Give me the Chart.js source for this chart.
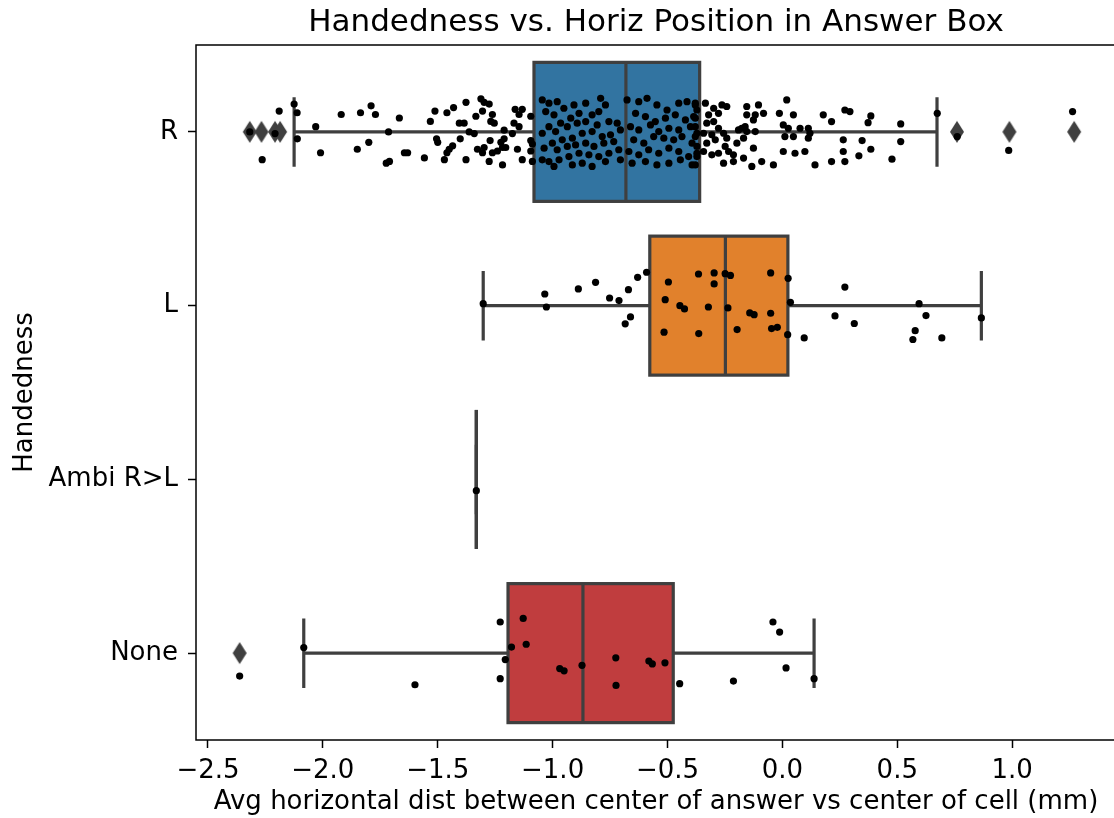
<!DOCTYPE html>
<html lang="en">
<head>
<meta charset="UTF-8">
<title>Handedness vs. Horiz Position in Answer Box</title>
<script src="https://cdn.jsdelivr.net/npm/chart.js"></script>
<style>
  html, body { margin: 0; padding: 0; background: #fff; overflow: hidden; }
  .wrap { width: 1120px; height: 818px; }
</style>
</head>
<body>
<div class="wrap"><canvas id="chart"></canvas></div>
<script>
// categories (top to bottom)
const categories = ['R', 'L', 'Ambi R>L', 'None'];
const xTicks = [-2.5, -2.0, -1.5, -1.0, -0.5, 0.0, 0.5, 1.0];

// box stats
const q1          = [-1.081, -0.577, -1.332, -1.194];
const median      = [-0.681, -0.248, -1.332, -0.868];
const q3          = [-0.360,  0.024, -1.332, -0.475];
const whiskerLow  = [-2.125, -1.302, -1.332, -2.083];
const whiskerHigh = [ 0.673,  0.866, -1.332,  0.138];
const fliers      = [[-2.318, -2.267, -2.208, -2.186, 0.760, 0.988, 1.270], [], [], [-2.362]];

// strip points: [value, jitter]
const stripR = [
  [-2.318,0.0],[-2.208,0.01],[-2.19,-0.12],[-2.264,0.16],[-2.125,-0.16],[-2.112,-0.11],[-2.111,0.04],
  [-2.031,-0.03],[-2.01,0.12],[-1.92,-0.10],[-1.836,-0.11],[-1.79,-0.15],[-1.771,-0.10],[-1.80,0.06],
  [-1.85,0.10],[-1.724,0.18],
  [-1.714,0.0],[-1.71,0.17],[-1.667,-0.08],[-1.631,0.12],[-1.645,0.12],[-1.558,0.15],[-1.532,-0.06],
  [-1.512,-0.12],[-1.505,0.04],[-1.50,0.06],[-1.46,-0.11],[-1.431,-0.14],[-1.377,-0.17],[-1.471,0.16],
  [-1.45,0.10],[-1.435,0.08],[-1.46,0.12],[-1.406,-0.05],[-1.385,-0.05],[-1.402,0.04],[-1.377,0.16],
  [-1.363,0.0],[-1.334,-0.09],[-1.312,-0.19],[-1.298,-0.17],[-1.276,-0.16],[-1.305,-0.12],[-1.262,-0.10],
  [-1.269,-0.06],[-1.254,-0.05],[-1.341,0.01],[-1.327,0.10],[-1.305,0.12],[-1.298,0.09],[-1.272,0.05],
  [-1.262,0.12],[-1.24,0.11],[-1.225,0.06],[-1.218,0.09],[-1.204,0.09],[-1.276,0.17],[-1.218,0.19],
  [-1.211,-0.01],[-1.175,0.01],[-1.163,-0.13],[-1.146,-0.10],[-1.132,-0.13],[-1.168,-0.05],[-1.146,-0.03],
  [-1.153,0.10],[-1.132,0.16],[-1.095,0.05],[-1.088,0.07],[-1.095,0.11],[-1.088,0.17],[-1.095,-0.09],
  [-1.211,0.04],
  [-1.045,-0.184],[-1.016,-0.165],[-0.980,-0.174],[-1.030,-0.117],[-0.994,-0.098],[-0.951,-0.136],
  [-0.907,-0.155],[-0.856,-0.165],[-0.791,-0.193],[-0.770,-0.155],[-0.799,-0.117],[-0.828,-0.098],
  [-0.885,-0.107],[-0.921,-0.079],[-0.965,-0.050],[-1.016,-0.030],[-1.045,0.008],[-0.987,-0.002],
  [-0.936,-0.030],[-0.893,-0.050],[-0.856,-0.059],[-0.806,-0.040],[-0.755,-0.059],[-0.719,-0.050],
  [-0.705,-0.011],[-0.748,0.017],[-0.784,0.027],[-0.828,-0.002],[-0.871,0.008],[-0.914,0.036],
  [-0.958,0.046],[-1.001,0.065],[-1.037,0.094],[-0.980,0.103],[-0.936,0.084],[-0.900,0.075],
  [-0.856,0.065],[-0.820,0.084],[-0.777,0.065],[-0.734,0.056],[-0.712,0.103],[-0.755,0.123],
  [-0.799,0.142],[-0.842,0.132],[-0.885,0.123],[-0.929,0.142],[-0.972,0.161],[-1.016,0.171],
  [-1.045,0.161],[-0.994,0.199],[-0.914,0.190],[-0.871,0.180],[-0.828,0.199],[-0.770,0.171],
  [-0.705,0.161],[-0.676,-0.184],[-0.625,-0.174],[-0.589,-0.193],[-0.546,-0.155],[-0.502,-0.126],
  [-0.451,-0.165],[-0.415,-0.174],[-0.379,-0.155],[-0.639,-0.107],[-0.596,-0.088],[-0.553,-0.059],
  [-0.509,-0.079],[-0.466,-0.098],[-0.422,-0.069],[-0.386,-0.088],[-0.661,-0.030],[-0.625,-0.011],
  [-0.574,-0.040],[-0.538,-0.002],[-0.494,-0.021],[-0.451,-0.011],[-0.400,-0.030],[-0.372,0.008],
  [-0.647,0.046],[-0.603,0.065],[-0.560,0.027],[-0.516,0.036],[-0.473,0.046],[-0.437,0.027],
  [-0.393,0.065],[-0.668,0.113],[-0.625,0.132],[-0.582,0.103],[-0.538,0.123],[-0.494,0.094],
  [-0.451,0.113],[-0.408,0.142],[-0.372,0.123],[-0.654,0.180],[-0.596,0.171],[-0.546,0.190],
  [-0.494,0.180],[-0.444,0.161],[-0.393,0.190],
  [-0.379,-0.165],[-0.372,-0.126],[-0.379,-0.079],[-0.379,-0.030],[-0.379,0.027],[-0.372,0.084],
  [-0.372,0.142],[-0.379,0.190],[-0.335,-0.165],[-0.299,-0.136],[-0.263,-0.155],[-0.242,-0.146],
  [-0.278,-0.107],[-0.321,-0.098],[-0.329,-0.050],[-0.299,-0.059],[-0.278,-0.021],[-0.343,0.008],
  [-0.307,0.017],[-0.292,0.046],[-0.329,0.065],[-0.256,0.008],[-0.242,0.036],[-0.343,0.113],
  [-0.307,0.132],[-0.278,0.123],[-0.249,0.084],[-0.234,0.113],[-0.213,0.132],[-0.256,0.180],
  [-0.213,0.171],[-0.169,0.151],[-0.133,0.199],[-0.090,0.171],[-0.198,0.065],[-0.155,-0.146],
  [-0.104,-0.155],[-0.155,-0.098],[-0.118,-0.098],[-0.082,-0.107],[-0.126,-0.069],[-0.162,-0.030],
  [-0.177,-0.021],[-0.191,-0.011],[-0.155,-0.002],[-0.118,-0.002],[-0.169,0.036],[-0.126,0.094],
  [-0.039,0.190],[-0.013,-0.107],[0.019,-0.184],[0.048,-0.098],[0.004,-0.040],[0.026,-0.021],
  [0.011,0.027],[0.048,0.027],[0.004,0.113],[0.055,0.123],[0.098,0.113],[0.077,-0.021],
  [0.113,-0.021],[0.120,0.008],[0.113,0.036],[0.142,0.190],[0.178,-0.098],[0.214,-0.059],
  [0.272,-0.126],[0.265,0.046],[0.265,0.113],[0.214,0.171],[0.272,0.171],[0.294,-0.117],
  [0.333,0.138],[0.347,0.05],[0.385,0.10],[0.373,-0.053],[0.385,-0.092],[0.477,0.157],
  [0.515,-0.046],[0.515,0.056],[0.674,-0.107],[0.761,0.027],[0.985,0.107],[1.263,-0.117]
];
const stripL = [
  [-1.302,-0.011],[-1.034,-0.067],[-1.027,0.008],[-0.888,-0.096],[-0.813,-0.134],[-0.752,-0.044],
  [-0.711,-0.029],[-0.670,-0.092],[-0.630,-0.163],[-0.591,-0.192],[-0.661,0.065],[-0.684,0.105],
  [-0.515,0.153],[-0.510,-0.034],[-0.496,-0.136],[-0.446,0.0],[-0.426,0.019],[-0.365,-0.182],
  [-0.364,0.161],[-0.322,0.008],[-0.297,-0.188],[-0.297,-0.125],[-0.249,-0.184],[-0.226,-0.174],
  [-0.237,0.013],[-0.197,0.138],[-0.142,0.042],[-0.123,0.052],[-0.051,-0.188],[-0.051,0.044],
  [-0.047,0.132],[-0.022,0.125],[0.025,-0.157],[0.035,-0.019],[0.023,0.167],[0.095,0.186],
  [0.229,0.059],[0.272,-0.107],[0.313,0.103],[0.568,0.195],[0.578,0.144],[0.595,-0.011],
  [0.625,0.057],[0.694,0.186],[0.866,0.071]
];
const stripAmbi = [[-1.332, 0.065]];
const stripNone = [
  [-2.362,0.132],[-2.083,-0.032],[-1.599,0.182],[-1.228,-0.179],[-1.128,-0.200],[-1.179,-0.035],
  [-1.115,-0.051],[-1.206,0.037],[-1.228,0.147],[-0.969,0.089],[-0.950,0.102],[-0.872,0.070],
  [-0.725,0.027],[-0.724,0.186],[-0.581,0.046],[-0.566,0.062],[-0.511,0.056],[-0.447,0.176],
  [-0.213,0.161],[-0.041,-0.179],[-0.012,-0.121],[0.016,0.085],[0.138,0.147]
];

const FONT = 'DejaVu Sans';
const boxColors = ['#3274a1', '#e1812c', '#3a923a', '#c03d3e'];
const lineGray = '#3f3f3f';

function fmtTick(v) {
  const s = Math.abs(v).toFixed(1);
  return v < 0 ? '\u2212' + s : s;
}

const stripData = [];
[stripR, stripL, stripAmbi, stripNone].forEach((pts, i) => {
  pts.forEach(p => stripData.push({ x: p[0], y: i + p[1] }));
});
const flierData = [];
fliers.forEach((vals, i) => vals.forEach(v => flierData.push({ x: v, y: i })));

// thin diamond marker like matplotlib 'd'
const diamond = document.createElement('canvas');
diamond.width = 16; diamond.height = 24;
(function () {
  const c = diamond.getContext('2d');
  c.fillStyle = lineGray;
  c.beginPath();
  c.moveTo(8, 1); c.lineTo(15, 12); c.lineTo(8, 23); c.lineTo(1, 12);
  c.closePath(); c.fill();
})();

const boxPlugin = {
  id: 'boxes',
  beforeDatasetsDraw(chart) {
    const { ctx, scales: { x, y } } = chart;
    ctx.save();
    ctx.lineWidth = 3.2;
    ctx.strokeStyle = lineGray;
    categories.forEach((c, i) => {
      const top = y.getPixelForValue(i - 0.4), bot = y.getPixelForValue(i + 0.4);
      const mid = y.getPixelForValue(i);
      const capT = y.getPixelForValue(i - 0.2), capB = y.getPixelForValue(i + 0.2);
      const xl = x.getPixelForValue(q1[i]), xr = x.getPixelForValue(q3[i]);
      const xm = x.getPixelForValue(median[i]);
      const wl = x.getPixelForValue(whiskerLow[i]), wh = x.getPixelForValue(whiskerHigh[i]);
      // whiskers and caps
      ctx.beginPath();
      ctx.moveTo(wl, mid); ctx.lineTo(xl, mid);
      ctx.moveTo(xr, mid); ctx.lineTo(wh, mid);
      ctx.moveTo(wl, capT); ctx.lineTo(wl, capB);
      ctx.moveTo(wh, capT); ctx.lineTo(wh, capB);
      ctx.stroke();
      // box + median
      ctx.fillStyle = boxColors[i];
      ctx.fillRect(xl, top, xr - xl, bot - top);
      ctx.strokeRect(xl, top, xr - xl, bot - top);
      ctx.beginPath();
      ctx.moveTo(xm, top); ctx.lineTo(xm, bot);
      ctx.stroke();
    });
    ctx.restore();
  },
  afterDraw(chart) {
    const { ctx, chartArea: a } = chart;
    ctx.save();
    ctx.strokeStyle = '#000';
    ctx.lineWidth = 1.5;
    ctx.strokeRect(a.left, a.top, a.right - a.left, a.bottom - a.top);
    // title, centred over the axes
    ctx.fillStyle = '#000';
    ctx.font = '31px "' + FONT + '"';
    ctx.textAlign = 'center';
    ctx.textBaseline = 'middle';
    ctx.fillText('Handedness vs. Horiz Position in Answer Box', (a.left + a.right) / 2, 23);
    ctx.restore();
  }
};

const tickFont = { family: FONT, size: 26 };

new Chart(document.getElementById('chart'), {
  type: 'scatter',
  data: {
    datasets: [
      {
        label: 'points',
        data: stripData,
        backgroundColor: '#000',
        borderWidth: 0,
        pointRadius: 3.6,
        pointHoverRadius: 3.6
      },
      {
        label: 'fliers',
        data: flierData,
        pointStyle: diamond,
        backgroundColor: lineGray,
        borderWidth: 0
      }
    ]
  },
  options: {
    responsive: true,
    maintainAspectRatio: false,
    animation: false,
    layout: { padding: { top: 45, right: 2, left: 0, bottom: 0 } },
    plugins: {
      legend: { display: false },
      tooltip: { enabled: false },
      title: { display: false }
    },
    scales: {
      x: {
        type: 'linear',
        min: -2.552,
        max: 1.452,
        afterBuildTicks: s => { s.ticks = xTicks.map(v => ({ value: v })); },
        afterFit: s => { s.height = 78; },
        ticks: { callback: v => fmtTick(v), font: tickFont, color: '#000', padding: 8, maxRotation: 0, autoSkip: false },
        grid: { drawOnChartArea: false, drawTicks: true, tickLength: 8, tickWidth: 1.5, tickColor: '#000' },
        border: { display: false },
        title: { display: true, text: 'Avg horizontal dist between center of answer vs center of cell (mm)', font: tickFont, color: '#000', padding: { top: 0, bottom: 0 } }
      },
      y: {
        type: 'linear',
        reverse: true,
        min: -0.5,
        max: 3.5,
        afterBuildTicks: s => { s.ticks = categories.map((c, i) => ({ value: i })); },
        afterFit: s => { s.width = 196; },
        ticks: { callback: v => categories[v], font: tickFont, color: '#000', padding: 10 },
        grid: { drawOnChartArea: false, drawTicks: true, tickLength: 8, tickWidth: 1.5, tickColor: '#000' },
        border: { display: false },
        title: { display: true, text: 'Handedness', font: tickFont, color: '#000', padding: { top: 10, bottom: 0 } }
      }
    }
  },
  plugins: [boxPlugin]
});
</script>
</body>
</html>
